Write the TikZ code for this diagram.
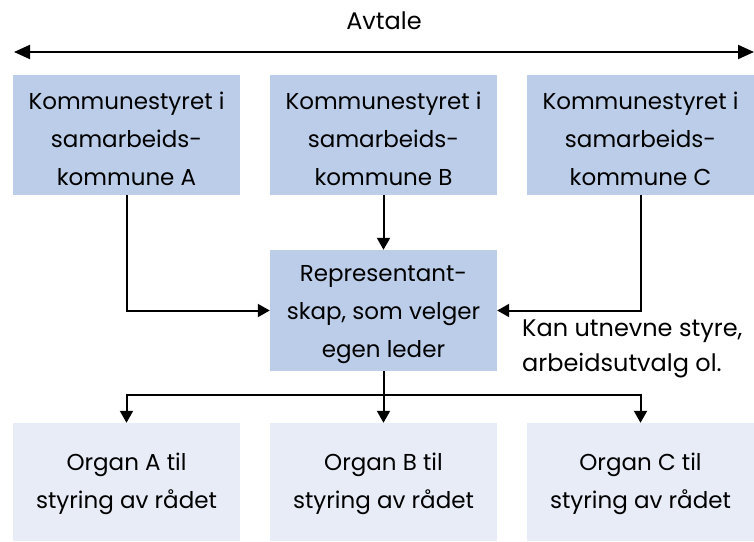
\documentclass[tikz,border=0pt]{standalone}
\usepackage{fontspec}
\setmainfont{Poppins}
\usetikzlibrary{arrows.meta}
\definecolor{boxblue}{HTML}{BBCDE8}
\definecolor{boxpale}{HTML}{E8ECF7}
\tikzset{
  px/.style={x=1pt,y=-1pt},
  boxtext/.style={align=center,inner sep=0pt,font=\fontsize{23}{38}\selectfont,yshift=-4pt},
  topbox/.style={fill=boxblue,draw=none,minimum width=227pt,minimum height=120pt,inner sep=0pt},
  lowbox/.style={fill=boxpale,draw=none,minimum width=227pt,minimum height=118pt,inner sep=0pt},
  conn/.style={line width=2pt,-{Triangle[length=12pt,width=13pt]}},
  lbl/.style={font=\fontsize{24}{35}\selectfont,align=left,inner sep=0pt}
}
\begin{document}
\begin{tikzpicture}[px]
\useasboundingbox (0,0) rectangle (754,541);
\node[lbl,anchor=center] (avt) at (384,21) {Avtale};
\coordinate (al) at (14,52);
\coordinate (ar) at (754,52);
\draw[line width=2pt,{Triangle[length=16pt,width=14pt]}-{Triangle[length=16pt,width=14pt]}] (al) -- (ar);
\node[topbox,label={[boxtext]center:Kommunestyret i\\samarbeids-\\kommune A}] (ka) at (126.5,135) {};
\node[topbox,label={[boxtext]center:Kommunestyret i\\samarbeids-\\kommune B}] (kb) at (383.5,135) {};
\node[topbox,label={[boxtext]center:Kommunestyret i\\samarbeids-\\kommune C}] (kc) at (640.5,135) {};
\node[topbox,minimum height=121pt,label={[boxtext]center:Representant-\\skap, som velger\\egen leder}] (rep) at (383.5,310.5) {};
\node[lowbox,label={[boxtext,yshift=2pt]center:Organ A til\\styring av rådet}] (oa) at (126.5,482) {};
\node[lowbox,label={[boxtext,yshift=2pt]center:Organ B til\\styring av rådet}] (ob) at (383.5,482) {};
\node[lowbox,label={[boxtext,yshift=2pt]center:Organ C til\\styring av rådet}] (oc) at (640.5,482) {};
\node[lbl,anchor=north west] (kan) at (522,320) {Kan utnevne styre,\\arbeidsutvalg ol.};
\draw[conn] (ka.south) |- (rep.west);
\draw[conn] (kb.south) -- (rep.north);
\draw[conn] (kc.south) |- (rep.east);
\coordinate (split) at (383.5,395);
\draw[line width=2pt] (rep.south) -- (split);
\draw[conn] (split) -| (oa.north);
\draw[conn] (split) -- (ob.north);
\draw[conn] (split) -| (oc.north);
\end{tikzpicture}
\end{document}
